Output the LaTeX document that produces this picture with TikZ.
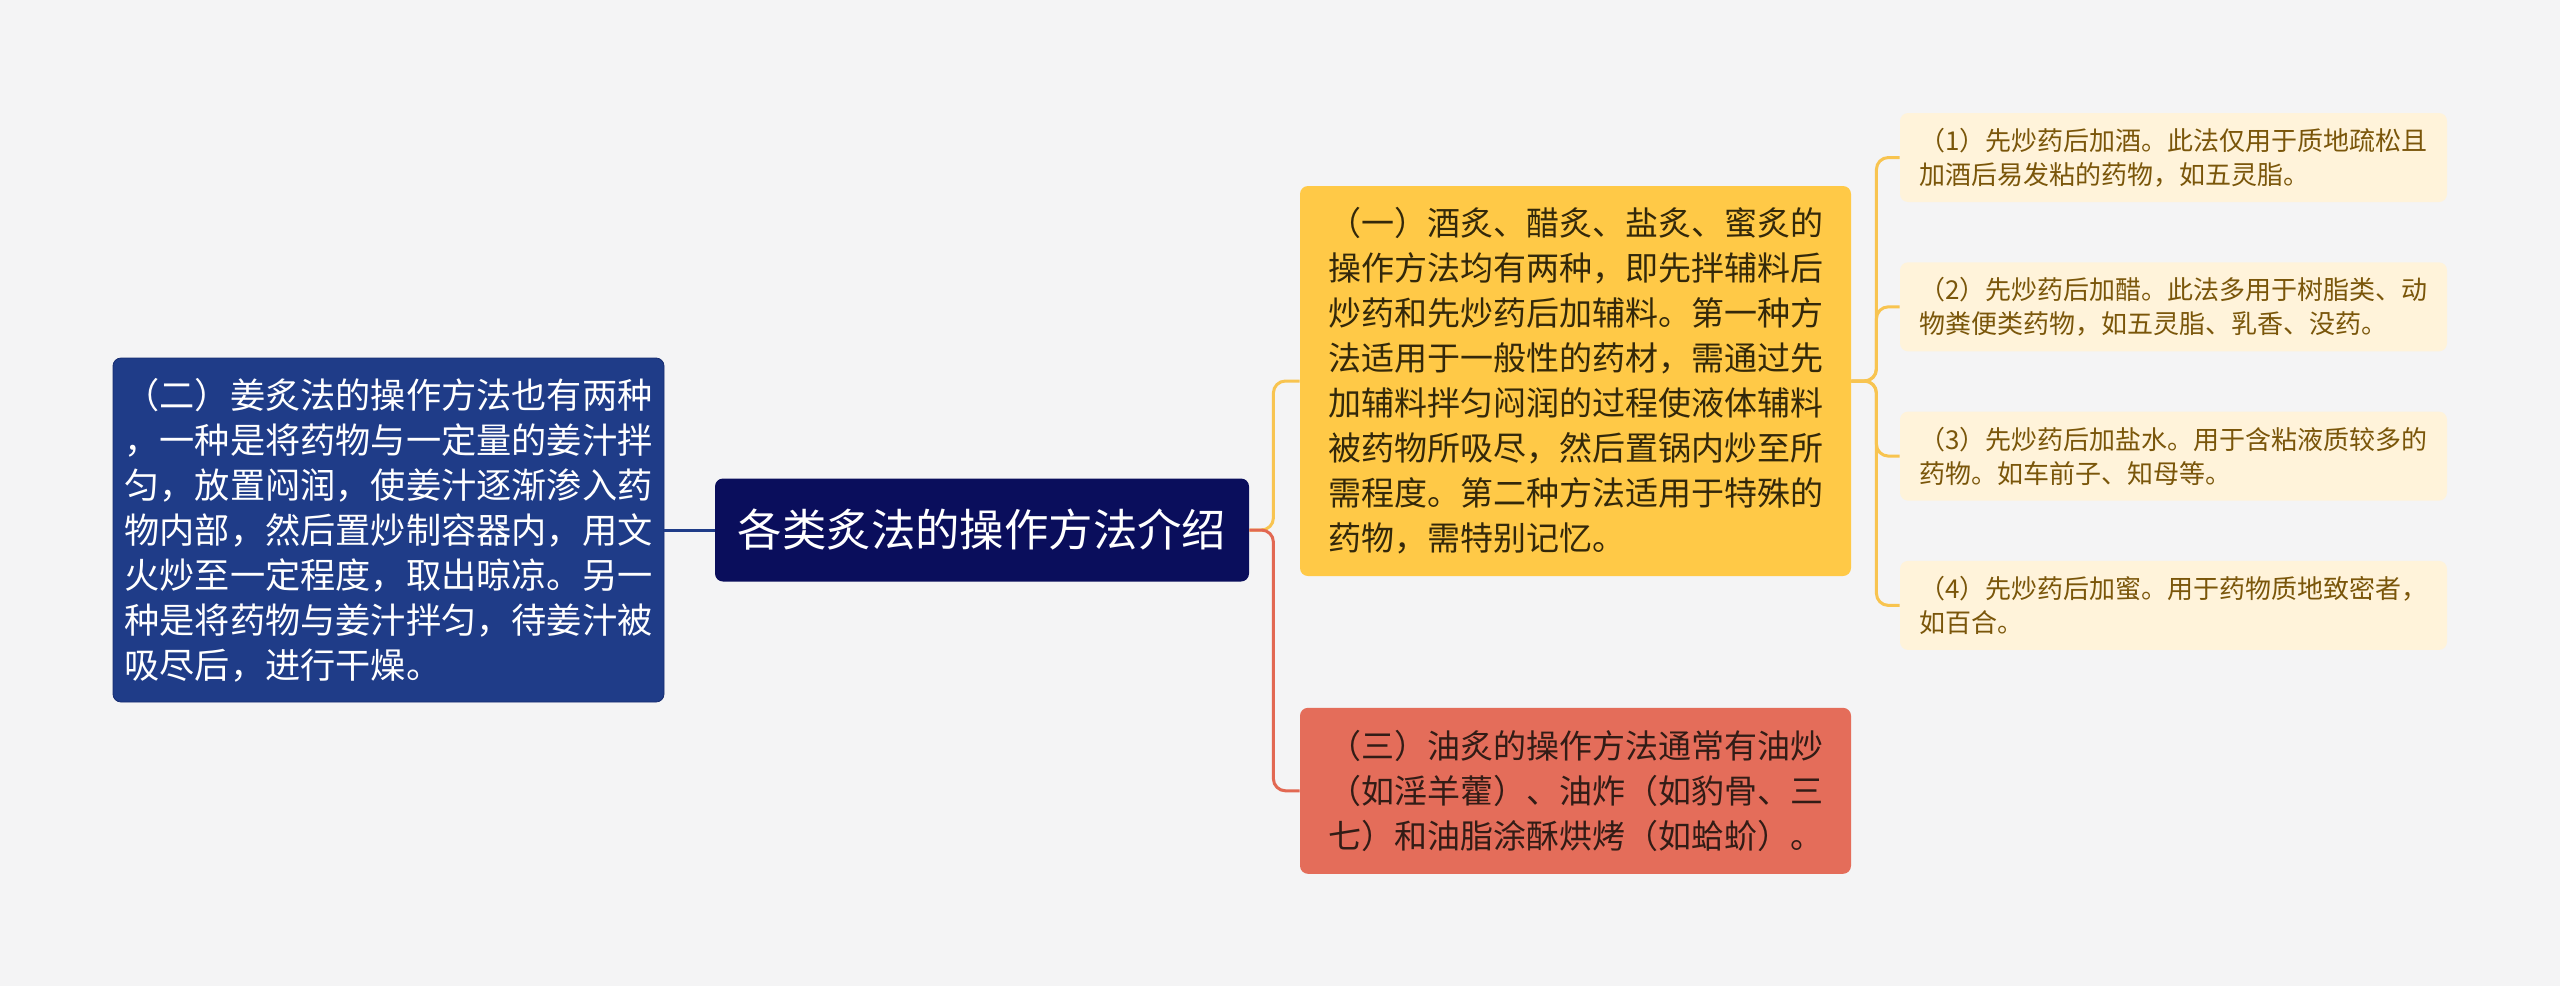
\documentclass[tikz,border=0pt]{standalone}
\usepackage{fontspec}
\setmainfont{Noto Sans CJK SC}
\usetikzlibrary{positioning}
\definecolor{bgGray}{RGB}{244,244,245}
\definecolor{rootBlue}{RGB}{10,14,92}
\definecolor{leftBlue}{RGB}{31,60,136}
\definecolor{leftEdge}{RGB}{22,44,112}
\definecolor{mainYellow}{RGB}{255,201,71}
\definecolor{yellowText}{RGB}{51,40,10}
\definecolor{mainRed}{RGB}{228,109,90}
\definecolor{redText}{RGB}{50,28,22}
\definecolor{noteFill}{RGB}{255,243,218}
\definecolor{noteText}{RGB}{122,86,10}
\definecolor{yellowLine}{RGB}{248,196,80}
\definecolor{redLine}{RGB}{226,104,82}
\tikzset{
    box/.style={rounded corners=4pt, inner sep=0pt, align=left},
    topic/.style={box, fill=rootBlue, text=white, font=\fontsize{22.2pt}{26pt}\selectfont},
    branch/.style={box, font=\fontsize{16.5pt}{22.5pt}\selectfont, minimum width=275.5pt},
    note/.style={box, fill=noteFill, text=noteText, font=\fontsize{13pt}{17pt}\selectfont,
      minimum width=273.5pt, minimum height=44.5pt},
    link/.style={line width=1.5pt, rounded corners=6pt},
}

\begin{document}
\begin{tikzpicture}[x=0.5pt, y=-0.5pt]
    \fill[bgGray] (0,0) rectangle (2560,986);

    \node[topic, minimum width=267pt, minimum height=51.5pt] (root) at (982,530) {各类炙法的操作方法介绍};

    \node[branch, fill=leftBlue, draw=leftEdge, text=white, minimum height=172pt,
      font=\fontsize{17.6pt}{22.5pt}\selectfont] (ginger) at (388.5,530)
      {（二）姜炙法的操作方法也有两种\\，一种是将药物与一定量的姜汁拌\\匀，放置闷润，使姜汁逐渐渗入药\\物内部，然后置炒制容器内，用文\\火炒至一定程度，取出晾凉。另一\\种是将药物与姜汁拌匀，待姜汁被\\吸尽后，进行干燥。};

    \node[branch, fill=mainYellow, text=yellowText, minimum height=195pt] (wine) at (1575.5,381)
      {（一）酒炙、醋炙、盐炙、蜜炙的\\操作方法均有两种，即先拌辅料后\\炒药和先炒药后加辅料。第一种方\\法适用于一般性的药材，需通过先\\加辅料拌匀闷润的过程使液体辅料\\被药物所吸尽，然后置锅内炒至所\\需程度。第二种方法适用于特殊的\\药物，需特别记忆。};
    \node[branch, fill=mainRed, text=redText, minimum height=83pt, below=65.5pt of wine] (oil)
      {（三）油炙的操作方法通常有油炒\\（如淫羊藿）、油炸（如豹骨、三\\七）和油脂涂酥烘烤（如蛤蚧）。};

    \node[note] (s1) at (2173.5,157.5) {（1）先炒药后加酒。此法仅用于质地疏松且\\加酒后易发粘的药物，如五灵脂。};
    \node[note, below=29.75pt of s1] (s2) {（2）先炒药后加醋。此法多用于树脂类、动\\物粪便类药物，如五灵脂、乳香、没药。};
    \node[note, below=29.75pt of s2] (s3) {（3）先炒药后加盐水。用于含粘液质较多的\\药物。如车前子、知母等。};
    \node[note, below=29.75pt of s3] (s4) {（4）先炒药后加蜜。用于药物质地致密者，\\如百合。};

    % connectors
    \draw[link, leftBlue] (ginger.east) -- (root.west);
    \draw[link, yellowLine] (root.east) -- ++(12pt,0) |- (wine.west);
    \draw[link, redLine] (root.east) -- ++(12pt,0) |- (oil.west);
    \foreach \s in {s1,s2,s3,s4}
      \draw[link, yellowLine] (wine.east) -- ++(12.5pt,0) |- (\s.west);
\end{tikzpicture}
\end{document}
